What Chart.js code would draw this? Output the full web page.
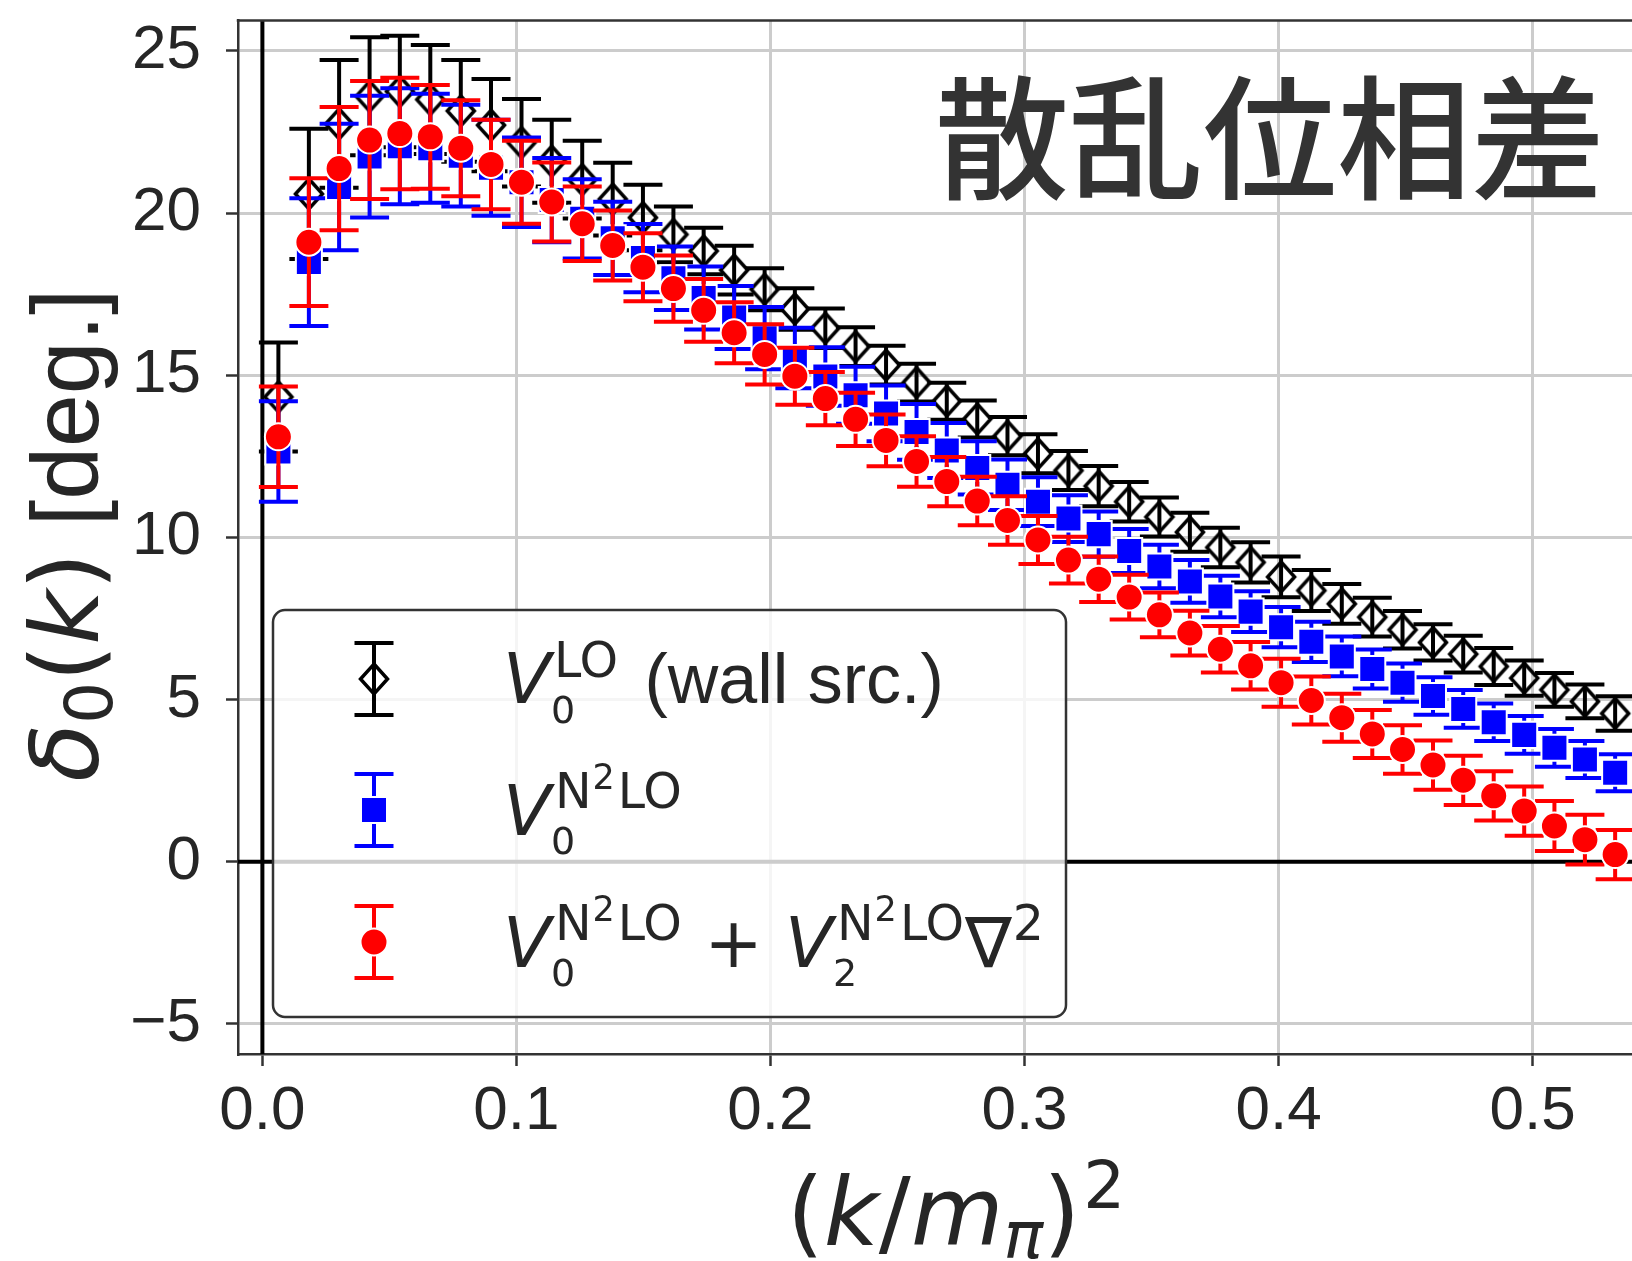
<!DOCTYPE html>
<html>
<head>
<meta charset="utf-8">
<script src="https://cdn.jsdelivr.net/npm/chart.js@4.4.1/dist/chart.umd.min.js"></script>
<style>
  html, body { margin: 0; padding: 0; background: #fff; overflow: hidden; }
  canvas { display: block; }
</style>
</head>
<body>
<canvas id="phaseChart" width="1680" height="1261"></canvas>
<script>
// (k/m_pi)^2 of each point
const kSq = [
  0.0063, 0.0183, 0.0302, 0.0422, 0.0541, 0.0661, 0.0781, 0.0900, 0.1020, 0.1139,
  0.1259, 0.1379, 0.1498, 0.1618, 0.1737, 0.1857, 0.1977, 0.2096, 0.2216, 0.2335,
  0.2455, 0.2575, 0.2694, 0.2814, 0.2933, 0.3053, 0.3173, 0.3292, 0.3412, 0.3531,
  0.3651, 0.3771, 0.3890, 0.4010, 0.4129, 0.4249, 0.4369, 0.4488, 0.4608, 0.4727,
  0.4847, 0.4967, 0.5086, 0.5206, 0.5325
];

// V0 LO (wall src.)
const loVal = [
  14.33, 20.59, 22.75, 23.60, 23.75, 23.50, 23.15, 22.71, 22.17, 21.60,
  21.03, 20.43, 19.86, 19.34, 18.83, 18.24, 17.65, 17.04, 16.45, 15.88,
  15.31, 14.77, 14.20, 13.65, 13.12, 12.58, 12.06, 11.58, 11.10, 10.63,
  10.16, 9.69, 9.23, 8.78, 8.36, 7.95, 7.54, 7.15, 6.76, 6.40,
  6.02, 5.66, 5.30, 4.94, 4.57
];
const loErr = [
  1.68, 2.01, 1.97, 1.82, 1.72, 1.68, 1.57, 1.42, 1.35, 1.28,
  1.20, 1.12, 1.01, 0.86, 0.72, 0.75, 0.65, 0.64, 0.61, 0.60,
  0.60, 0.58, 0.57, 0.57, 0.59, 0.60, 0.60, 0.62, 0.61, 0.60,
  0.60, 0.61, 0.62, 0.63, 0.63, 0.61, 0.60, 0.58, 0.56, 0.57,
  0.57, 0.54, 0.52, 0.52, 0.53
];

// V0 N2LO
const n2Val = [
  12.65, 18.49, 20.80, 21.74, 22.06, 22.00, 21.77, 21.40, 20.95, 20.40,
  19.82, 19.22, 18.61, 17.99, 17.38, 16.78, 16.14, 15.53, 14.96, 14.38,
  13.82, 13.25, 12.68, 12.14, 11.62, 11.10, 10.58, 10.10, 9.58, 9.10,
  8.64, 8.18, 7.71, 7.23, 6.78, 6.33, 5.94, 5.52, 5.11, 4.71,
  4.30, 3.91, 3.51, 3.15, 2.74
];
const n2Err = [
  1.55, 1.97, 1.95, 1.88, 1.79, 1.68, 1.57, 1.48, 1.38, 1.30,
  1.22, 1.13, 1.05, 0.98, 0.97, 0.97, 0.96, 0.93, 0.90, 0.88,
  0.86, 0.86, 0.85, 0.82, 0.78, 0.75, 0.72, 0.70, 0.68, 0.67,
  0.66, 0.64, 0.63, 0.62, 0.62, 0.61, 0.60, 0.59, 0.58, 0.58,
  0.58, 0.58, 0.58, 0.57, 0.57
];

// V0 N2LO + V2 N2LO nabla^2
const n2gVal = [
  13.10, 19.10, 21.37, 22.25, 22.45, 22.35, 22.00, 21.50, 20.95, 20.34,
  19.67, 19.00, 18.33, 17.67, 17.00, 16.31, 15.64, 14.97, 14.28, 13.64,
  12.99, 12.34, 11.72, 11.12, 10.52, 9.92, 9.30, 8.71, 8.16, 7.61,
  7.05, 6.55, 6.04, 5.52, 4.97, 4.44, 3.94, 3.46, 2.98, 2.51,
  2.03, 1.56, 1.10, 0.68, 0.22
];
const n2gErr = [
  1.55, 1.97, 1.90, 1.82, 1.72, 1.60, 1.48, 1.38, 1.28, 1.22,
  1.15, 1.08, 1.05, 1.02, 0.97, 0.94, 0.93, 0.88, 0.82, 0.82,
  0.80, 0.78, 0.76, 0.75, 0.75, 0.74, 0.72, 0.70, 0.69, 0.69,
  0.69, 0.72, 0.73, 0.74, 0.74, 0.74, 0.74, 0.75, 0.76, 0.76,
  0.76, 0.76, 0.77, 0.77, 0.76
];

const xTicks = [0, 0.1, 0.2, 0.3, 0.4, 0.5];
const yTicks = [-5, 0, 5, 10, 15, 20, 25];

const CAP = 19.5;
const TEXT = '#262626';
const SPINE = '#333333';

function pts(vals) {
  return vals.map((v, i) => ({ x: kSq[i], y: v }));
}

// hollow diamond marker
function makeDiamond() {
  const c = document.createElement('canvas');
  c.width = 40; c.height = 44;
  const g = c.getContext('2d');
  g.strokeStyle = '#000';
  g.lineWidth = 3.5;
  g.beginPath();
  g.moveTo(20, 7); g.lineTo(33.5, 22); g.lineTo(20, 37); g.lineTo(6.5, 22);
  g.closePath();
  g.stroke();
  return c;
}
const diamond = makeDiamond();

// draw a run of text pieces, groups stack sub/sup at the same x
function drawRun(ctx, x, y, parts, dry) {
  for (const p of parts) {
    if (p.group) {
      let end = x;
      for (const line of p.group) end = Math.max(end, drawRun(ctx, x, y, line, dry));
      x = end;
    } else {
      ctx.font = p.f;
      const px = x + (p.dx || 0);
      if (!dry) ctx.fillText(p.t, px, y + (p.dy || 0));
      x = px + ctx.measureText(p.t).width;
    }
  }
  return x;
}

function drawBar(ctx, x, yc, half, color) {
  ctx.strokeStyle = color;
  ctx.lineWidth = 4;
  ctx.beginPath();
  ctx.moveTo(x, yc - half); ctx.lineTo(x, yc + half);
  ctx.moveTo(x - CAP, yc - half); ctx.lineTo(x + CAP, yc - half);
  ctx.moveTo(x - CAP, yc + half); ctx.lineTo(x + CAP, yc + half);
  ctx.stroke();
}

const errorBars = {
  id: 'errorBars',
  beforeDatasetDraw(chart, args) {
    const ds = chart.data.datasets[args.index];
    if (!ds.errors) return;
    const { ctx, chartArea: a, scales: { x, y } } = chart;
    ctx.save();
    ctx.beginPath();
    ctx.rect(a.left, a.top, a.right - a.left, a.bottom - a.top);
    ctx.clip();
    ctx.strokeStyle = ds.barColor;
    ctx.lineWidth = 4;
    ds.data.forEach((p, i) => {
      const px = x.getPixelForValue(p.x);
      const top = y.getPixelForValue(p.y + ds.errors[i]);
      const bot = y.getPixelForValue(p.y - ds.errors[i]);
      ctx.beginPath();
      ctx.moveTo(px, top); ctx.lineTo(px, bot);
      ctx.moveTo(px - CAP, top); ctx.lineTo(px + CAP, top);
      ctx.moveTo(px - CAP, bot); ctx.lineTo(px + CAP, bot);
      ctx.stroke();
    });
    ctx.restore();
  }
};

const decor = {
  id: 'decor',
  beforeDatasetsDraw(chart) {
    const { ctx, chartArea: a, scales: { x, y } } = chart;
    ctx.save();
    ctx.strokeStyle = '#000';
    ctx.lineWidth = 4;
    ctx.beginPath();
    const y0 = y.getPixelForValue(0);
    const x0 = x.getPixelForValue(0);
    ctx.moveTo(a.left, y0); ctx.lineTo(a.right, y0);
    ctx.moveTo(x0, a.top); ctx.lineTo(x0, a.bottom);
    ctx.stroke();
    ctx.restore();
  },
  afterDatasetsDraw(chart) {
    const { ctx, chartArea: a } = chart;
    ctx.save();

    // top spine
    ctx.strokeStyle = SPINE;
    ctx.lineWidth = 2.5;
    ctx.beginPath();
    ctx.moveTo(a.left - 1.25, a.top); ctx.lineTo(chart.width, a.top);
    ctx.stroke();

    // title
    ctx.fillStyle = '#333333';
    ctx.textBaseline = 'alphabetic';
    ctx.textAlign = 'left';
    ctx.font = '500 134px "Noto Sans CJK JP"';
    ctx.fillText('散乱位相差', 935, 189);

    // legend box
    ctx.beginPath();
    ctx.roundRect(273, 610, 793, 407, 12);
    ctx.fillStyle = 'rgba(255,255,255,0.8)';
    ctx.fill();
    ctx.strokeStyle = '#333333';
    ctx.lineWidth = 2.5;
    ctx.stroke();

    const mx = 374;
    const rows = [679, 810, 942];
    // black
    drawBar(ctx, mx, rows[0], 36, '#000');
    ctx.drawImage(diamond, mx - 20, rows[0] - 22);
    // blue
    drawBar(ctx, mx, rows[1], 36, '#0000ff');
    ctx.fillStyle = '#0000ff'; ctx.strokeStyle = '#fff'; ctx.lineWidth = 2;
    ctx.beginPath(); ctx.rect(mx - 13, rows[1] - 13, 26, 26); ctx.fill(); ctx.stroke();
    // red
    drawBar(ctx, mx, rows[2], 36, '#ff0000');
    ctx.fillStyle = '#ff0000'; ctx.strokeStyle = '#fff'; ctx.lineWidth = 2;
    ctx.beginPath(); ctx.arc(mx, rows[2], 13.5, 0, Math.PI * 2); ctx.fill(); ctx.stroke();

    const L_IT = 'italic 70px "DejaVu Sans"';
    const L_RM = '70px "DejaVu Sans"';
    const L_SUP = '49px "DejaVu Sans"';
    const L_SS = '35px "DejaVu Sans"';
    const L_SUB = '38px "DejaVu Sans"';
    const L_TXT = '70px "Liberation Sans"';
    const n2lo = [
      { t: 'N', f: L_SUP, dy: -27, dx: 4 },
      { t: '2', f: L_SS, dy: -46, dx: 1 },
      { t: 'LO', f: L_SUP, dy: -27, dx: 3 }
    ];
    ctx.fillStyle = TEXT;
    drawRun(ctx, 503, 703, [
      { t: 'V', f: L_IT },
      { group: [[{ t: '0', f: L_SUB, dy: 20 }], [{ t: 'LO', f: L_SUP, dy: -26, dx: 3 }]] },
      { t: ' (wall src.)', f: L_TXT, dx: 7 }
    ]);
    drawRun(ctx, 503, 835, [
      { t: 'V', f: L_IT },
      { group: [[{ t: '0', f: L_SUB, dy: 19 }], n2lo] }
    ]);
    drawRun(ctx, 503, 967, [
      { t: 'V', f: L_IT },
      { group: [[{ t: '0', f: L_SUB, dy: 19 }], n2lo] },
      { t: ' + ', f: L_RM },
      { t: 'V', f: L_IT },
      { group: [[{ t: '2', f: L_SUB, dy: 19 }], n2lo] },
      { t: '\u2207', f: L_RM, dx: 1 },
      { t: '2', f: L_SUP, dy: -27, dx: 1 }
    ]);

    // x axis title
    const A_IT = 'italic 95px "DejaVu Sans"';
    const A_RM = '95px "DejaVu Sans"';
    const A_SC = '66px "DejaVu Sans"';
    const A_SC_IT = 'italic 66px "DejaVu Sans"';
    const xParts = [
      { t: '(', f: A_RM }, { t: 'k', f: A_IT }, { t: '/', f: A_RM },
      { t: 'm', f: A_IT }, { t: '\u03c0', f: A_SC_IT, dy: 13 },
      { t: ')', f: A_RM }, { t: '2', f: A_SC, dy: -37, dx: 3 }
    ];
    const cx = 956;
    const xw = drawRun(ctx, 0, 0, xParts, true);
    drawRun(ctx, cx - xw / 2, 1245, xParts);

    // y axis title
    const yParts = [
      { t: '\u03b4', f: A_IT }, { t: '0', f: A_SC, dy: 14 },
      { t: '(', f: A_RM }, { t: 'k', f: A_IT }, { t: ')', f: A_RM },
      { t: ' [deg.]', f: '95px "Liberation Sans"' }
    ];
    const yw = drawRun(ctx, 0, 0, yParts, true);
    ctx.translate(98, (a.top + a.bottom) / 2 - 2);
    ctx.rotate(-Math.PI / 2);
    drawRun(ctx, -yw / 2, 0, yParts);

    ctx.restore();
  }
};

const tickFont = { family: '"Liberation Sans", Arial, sans-serif', size: 62, lineHeight: 1.2 };

new Chart(document.getElementById('phaseChart'), {
  type: 'scatter',
  data: {
    datasets: [
      {
        label: 'V0 LO (wall src.)', data: pts(loVal), errors: loErr, barColor: '#000000',
        pointStyle: diamond, pointRadius: 16, order: 3
      },
      {
        label: 'V0 N2LO', data: pts(n2Val), errors: n2Err, barColor: '#0000ff',
        pointStyle: 'rect', pointRadius: 18.4, backgroundColor: '#0000ff',
        borderColor: '#ffffff', borderWidth: 2, order: 2
      },
      {
        label: 'V0 N2LO + V2 N2LO nabla2', data: pts(n2gVal), errors: n2gErr, barColor: '#ff0000',
        pointStyle: 'circle', pointRadius: 13.5, backgroundColor: '#ff0000',
        borderColor: '#ffffff', borderWidth: 2, order: 1
      }
    ]
  },
  options: {
    responsive: false,
    animation: false,
    events: [],
    layout: { padding: { left: 0, top: 16, right: 2, bottom: 0 } },
    plugins: { legend: { display: false }, tooltip: { enabled: false } },
    scales: {
      x: {
        type: 'linear', min: -0.0096, max: 0.5500,
        afterBuildTicks: s => { s.ticks = xTicks.map(v => ({ value: v })); },
        afterFit: s => { s.height = 207; s.paddingLeft = 0; s.paddingRight = 0; },
        ticks: { callback: v => v.toFixed(1), font: tickFont, color: TEXT, padding: 9, maxRotation: 0, autoSkip: false },
        grid: { color: '#cccccc', lineWidth: 3, tickLength: 12, tickColor: SPINE, tickWidth: 2.5 },
        border: { color: SPINE, width: 2.5 }
      },
      y: {
        type: 'linear', min: -5.93, max: 25.94,
        afterBuildTicks: s => { s.ticks = yTicks.map(v => ({ value: v })); },
        afterFit: s => { s.width = 238; s.paddingTop = 0; s.paddingBottom = 0; },
        ticks: { callback: v => (v < 0 ? '\u2212' + Math.abs(v) : String(v)), font: tickFont, color: TEXT, padding: 25, autoSkip: false },
        grid: { color: '#cccccc', lineWidth: 3, tickLength: 12, tickColor: SPINE, tickWidth: 2.5 },
        border: { color: SPINE, width: 2.5 }
      }
    }
  },
  plugins: [errorBars, decor]
});
</script>
</body>
</html>
